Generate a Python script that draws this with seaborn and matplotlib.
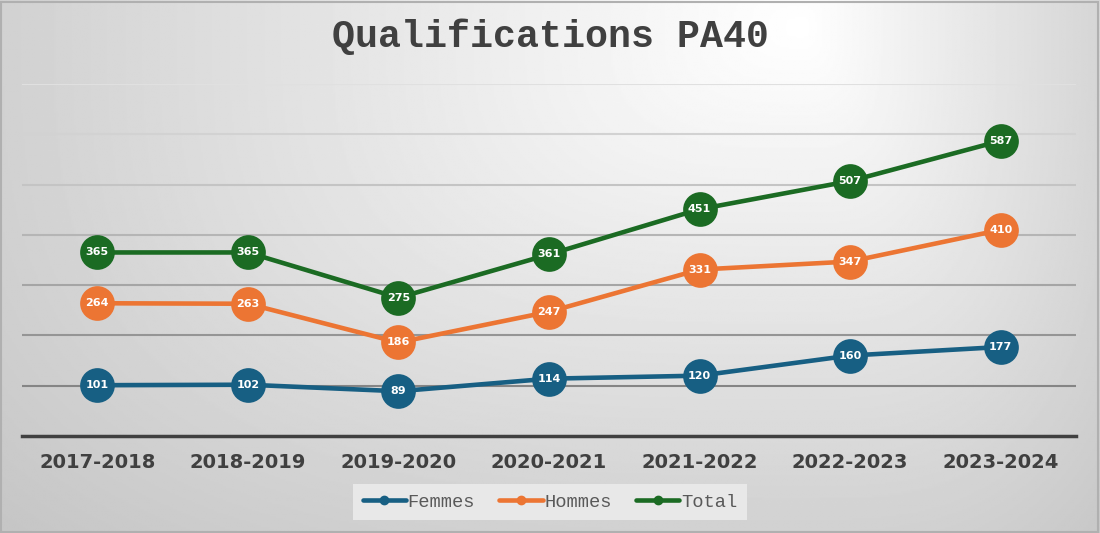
import numpy as np
import pandas as pd
import matplotlib
matplotlib.use("Agg")
import matplotlib.pyplot as plt
from matplotlib.lines import Line2D
import seaborn as sns

# data
annees = ["2017-2018", "2018-2019", "2019-2020", "2020-2021",
          "2021-2022", "2022-2023", "2023-2024"]
femmes = [101, 102, 89, 114, 120, 160, 177]
hommes = [264, 263, 186, 247, 331, 347, 410]
total = [365, 365, 275, 361, 451, 507, 587]

series = ["Femmes", "Hommes", "Total"]
couleurs = {"Femmes": "#175f83", "Hommes": "#ec7533", "Total": "#1b6b23"}

df = pd.DataFrame({
    "annee": annees * 3,
    "valeur": femmes + hommes + total,
    "serie": ["Femmes"] * 7 + ["Hommes"] * 7 + ["Total"] * 7,
})
df["x"] = df.groupby("serie").cumcount()

sns.set_style("white")

fig = plt.figure(figsize=(11, 5.33), dpi=100)

# background gradient (light spot top right of centre, grey edges)
bg = fig.add_axes([0, 0, 1, 1], zorder=-10)
yy, xx = np.mgrid[0:1:300j, 0:1:600j]
cx, cy = 0.73, 0.05
dx = np.where(xx < cx, (xx - cx) / cx, (xx - cx) / 0.30)
dy = (yy - cy) / 0.95
d = (np.abs(dx) ** 3 + np.abs(dy) ** 3) ** (1 / 3)
shade = np.clip(1.0 - 0.18 * d, 0.76, 1.0)
bg.imshow(shade, cmap="gray", vmin=0, vmax=1, aspect="auto",
          extent=[0, 1, 1, 0])
bg.set_xlim(0, 1)
bg.set_ylim(1, 0)
bg.axis("off")
fig.patches.append(plt.Rectangle((0.001, 0.002), 0.997, 0.995,
                                 transform=fig.transFigure, fill=False,
                                 edgecolor="#b0b0b0", linewidth=1.5))

ax = fig.add_axes([22 / 1100, 97 / 533, 1054 / 1100, 352 / 533])
ax.set_facecolor("none")

sns.lineplot(data=df, x="x", y="valeur", hue="serie", palette=couleurs,
             linewidth=3.3, marker="o", markersize=25, markeredgewidth=0,
             legend=False, ax=ax, zorder=3)

for _, r in df.iterrows():
    ax.text(r["x"], r["valeur"], str(r["valeur"]), color="white",
            fontsize=8, fontweight="bold", ha="center", va="center",
            family="DejaVu Sans", zorder=5)

ax.set_xlim(-0.5, 6.5)
ax.set_ylim(0, 700)
ax.set_yticks(range(100, 701, 100))
ax.set_yticklabels([])
ax.tick_params(axis="y", length=0)
ax.set_xticks(range(7))
ax.set_xticklabels(annees, fontsize=14, fontweight="bold", color="#404040",
                   family="DejaVu Sans")
ax.tick_params(axis="x", length=0, pad=12)
ax.set_xlabel("")
ax.set_ylabel("")

ax.grid(axis="y", linewidth=1.5)
grid_cols = ["#858585", "#959595", "#a5a5a5", "#b5b5b5", "#c4c4c4",
             "#d2d2d2", "#e0e0e0"]
for gl, c in zip(ax.get_ygridlines(), grid_cols):
    gl.set_color(c)

for s in ["top", "left", "right"]:
    ax.spines[s].set_visible(False)
ax.spines["bottom"].set_color("#404040")
ax.spines["bottom"].set_linewidth(2.5)

fig.text(0.5, 1 - 37 / 533, "Qualifications PA40", ha="center", va="center",
         fontsize=27.5, fontweight="bold", color="#404040",
         family="Liberation Mono")

handles = [Line2D([0], [0], color=couleurs[s], linewidth=3.3, marker="o",
                  markersize=6) for s in series]
leg = fig.legend(handles, series, loc="center", ncol=3,
                 bbox_to_anchor=(550 / 1100, 1 - 502 / 533),
                 prop={"family": "Liberation Mono", "size": 13.5},
                 frameon=True, fancybox=False, handlelength=2.3,
                 handletextpad=0.1, columnspacing=1.3, borderpad=0.5,
                 labelcolor="#595959")
leg.get_frame().set_facecolor("#e8e8e8")
leg.get_frame().set_edgecolor("none")
leg.get_frame().set_alpha(1)

fig.savefig("out.png", dpi=100)
